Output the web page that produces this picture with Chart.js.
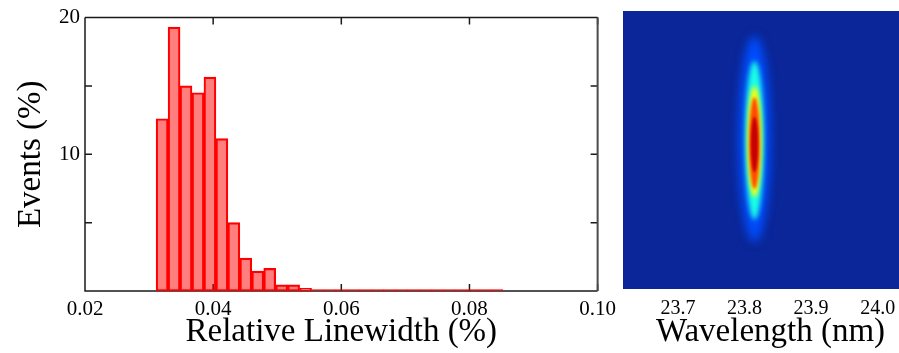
<!DOCTYPE html>
<html>
<head>
<meta charset="utf-8">
<script src="https://cdn.jsdelivr.net/npm/chart.js@4.4.1/dist/chart.umd.min.js"></script>
<style>
  html, body { margin: 0; padding: 0; background: #fff; overflow: hidden; }
  #left { position: absolute; left: 0; top: 0; width: 622px; height: 353px; }
  #right { position: absolute; left: 622px; top: 0; width: 296px; height: 353px; }
</style>
</head>
<body>
<div id="left"><canvas id="histChart"></canvas></div>
<div id="right"><canvas id="spotChart"></canvas></div>
<script>
// histogram: relative linewidth (%) in equal bins, events in %
const binStart = 0.0311;
const binWidth = 0.001866;
const eventsPct = [12.6, 19.3, 15.0, 14.5, 15.65, 11.15, 5.0, 2.4, 1.45, 1.65, 0.45, 0.45, 0.2,
    0.1, 0.1, 0.1, 0.1, 0.1, 0.1, 0.1, 0.1, 0.1, 0.1, 0.1, 0.1, 0.1, 0.1, 0.1, 0.1];
const linewidthTicks = [0.02, 0.04, 0.06, 0.08, 0.10];
const eventsTicks = [0, 5, 10, 15, 20];
const eventsLabels = ['', '', '10', '', '20'];

// spectrometer image: intensity contours of the line (rows 0..100 on the detector)
const lineCenter = 23.815;
const spotLevel = [0.2, 0.4, 0.62, 0.8, 0.93];
const spotHalfWidth = [0.024, 0.014, 0.0105, 0.008, 0.0055];
const spotTop = [91, 82, 73, 69, 62];
const spotBottom = [17, 25, 33, 36, 42];
const wavelengthTicks = [23.7, 23.8, 23.9, 24.0];

Chart.defaults.font.family = "'Liberation Serif', 'DejaVu Serif', serif";
Chart.defaults.color = '#000';
Chart.defaults.animation = false;

const binCenters = eventsPct.map((v, i) => binStart + binWidth * (i + 0.5));

// frame + inward tick marks, drawn under the bars
const framePlugin = {
    id: 'framePlugin',
    beforeDatasetsDraw(chart) {
        const { ctx, chartArea: a } = chart;
        const xs = chart.scales.x, ys = chart.scales.y;
        const len = 7;
        ctx.save();
        ctx.lineWidth = 1.5;
        ctx.strokeStyle = '#1a1a1a';
        ctx.beginPath();
        ctx.moveTo(a.left, a.top); ctx.lineTo(a.left, a.bottom); ctx.lineTo(a.right, a.bottom);
        ctx.moveTo(a.left, a.top); ctx.lineTo(a.right, a.top);
        xs.ticks.forEach(t => {
            const px = xs.getPixelForValue(t.value);
            ctx.moveTo(px, a.bottom); ctx.lineTo(px, a.bottom - len);
            ctx.moveTo(px, a.top); ctx.lineTo(px, a.top + len);
        });
        ys.ticks.forEach(t => {
            const py = ys.getPixelForValue(t.value);
            ctx.moveTo(a.left, py); ctx.lineTo(a.left + len, py);
            ctx.moveTo(a.right, py); ctx.lineTo(a.right - len, py);
        });
        ctx.stroke();
        ctx.lineWidth = 2;
        ctx.strokeStyle = '#4a4a4a';
        ctx.beginPath();
        ctx.moveTo(a.right, a.top); ctx.lineTo(a.right, a.bottom);
        ctx.stroke();
        ctx.restore();
    }
};

new Chart(document.getElementById('histChart'), {
    type: 'bar',
    data: {
        datasets: [{
            data: binCenters.map((x, i) => ({ x: x, y: eventsPct[i] })),
            backgroundColor: 'rgba(255, 0, 0, 0.5)',
            borderColor: 'rgb(255, 0, 0)',
            borderWidth: 1.5,
            borderSkipped: false,
            barPercentage: 1,
            categoryPercentage: 1
        }]
    },
    options: {
        responsive: true,
        maintainAspectRatio: false,
        layout: { padding: { left: 0, right: 21, top: 13, bottom: 0 } },
        plugins: { legend: { display: false }, tooltip: { enabled: false } },
        scales: {
            x: {
                type: 'linear',
                offset: false,
                min: 0.02,
                max: 0.10,
                afterBuildTicks: s => { s.ticks = linewidthTicks.map(v => ({ value: v })); },
                afterFit: s => { s.height = 62; },
                grid: { display: false, drawTicks: false, offset: false },
                border: { display: false },
                ticks: { font: { size: 21 }, padding: 6, maxRotation: 0, callback: v => v.toFixed(2) },
                title: { display: true, text: 'Relative Linewidth (%)', font: { size: 33 }, padding: { top: 0, bottom: 1 } }
            },
            y: {
                min: 0,
                max: 20,
                afterBuildTicks: s => { s.ticks = eventsTicks.map(v => ({ value: v })); },
                afterFit: s => { s.width = 85; },
                grid: { display: false, drawTicks: false },
                border: { display: false },
                ticks: { font: { size: 21 }, padding: 5, callback: v => eventsLabels[eventsTicks.indexOf(v)] },
                title: { display: true, text: 'Events (%)', font: { size: 33 }, padding: { top: 12, bottom: 0 } }
            }
        }
    },
    plugins: [framePlugin]
});

// jet colour map
function jet(v) {
    const c = t => Math.round(255 * Math.max(0, Math.min(1, 1.5 - Math.abs(4 * v - t))));
    return `rgb(${c(3)}, ${c(2)}, ${c(1)})`;
}

// detector image: dark background, then the line contours, softened
const spotPlugin = {
    id: 'spotPlugin',
    beforeDatasetsDraw(chart) {
        const { ctx, chartArea: a, scales: { x, y } } = chart;
        ctx.save();
        ctx.beginPath();
        ctx.rect(a.left, a.top, a.width, a.height);
        ctx.clip();
        ctx.fillStyle = 'rgb(10, 38, 152)';
        ctx.fillRect(a.left, a.top, a.width, a.height);
        const cx = x.getPixelForValue(lineCenter);
        spotLevel.forEach((lvl, i) => {
            const rx = x.getPixelForValue(lineCenter + spotHalfWidth[i]) - cx;
            const top = y.getPixelForValue(spotTop[i]);
            const bot = y.getPixelForValue(spotBottom[i]);
            ctx.filter = `blur(${Math.max(1, rx * 0.3).toFixed(1)}px)`;
            ctx.fillStyle = jet(lvl);
            ctx.beginPath();
            ctx.ellipse(cx, (top + bot) / 2, rx, (bot - top) / 2, 0, 0, Math.PI * 2);
            ctx.fill();
        });
        ctx.restore();
    }
};

new Chart(document.getElementById('spotChart'), {
    type: 'scatter',
    data: { datasets: [] },
    options: {
        responsive: true,
        maintainAspectRatio: false,
        layout: { padding: { left: 1, right: 0, top: 11, bottom: 0 } },
        plugins: { legend: { display: false }, tooltip: { enabled: false } },
        scales: {
            x: {
                type: 'linear',
                min: 23.6176,
                max: 24.0605,
                afterBuildTicks: s => { s.ticks = wavelengthTicks.map(v => ({ value: v })); },
                afterFit: s => { s.height = 64; },
                grid: { display: false, drawTicks: false },
                border: { display: false },
                ticks: { font: { size: 20 }, padding: 8, maxRotation: 0, callback: v => v.toFixed(1) },
                title: { display: true, text: 'Wavelength (nm)', font: { size: 33 }, padding: { top: 0, bottom: 1 } }
            },
            y: { type: 'linear', min: 0, max: 100, display: false }
        }
    },
    plugins: [spotPlugin]
});
</script>
</body>
</html>
